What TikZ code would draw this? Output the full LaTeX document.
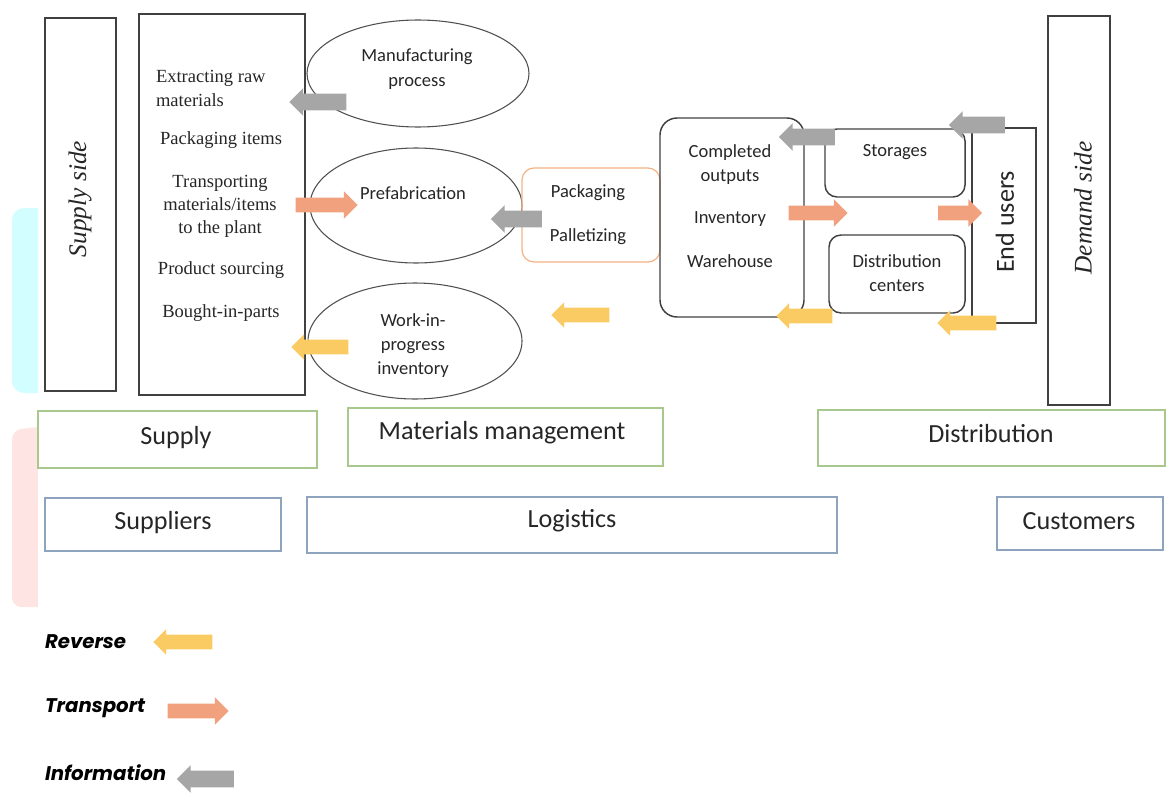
\documentclass[tikz,border=0pt]{standalone}
\usepackage{fontspec}
\setmainfont{Liberation Serif}
\setsansfont{Carlito}
\newfontfamily\legfont{Poppins}
\usetikzlibrary{shapes.geometric,shapes.arrows}
\definecolor{linec}{HTML}{404040}
\definecolor{ellc}{HTML}{505050}
\definecolor{grnc}{HTML}{A9C88E}
\definecolor{bluc}{HTML}{8EA4BE}
\definecolor{pkgc}{HTML}{F4B183}
\definecolor{grayar}{HTML}{A6A6A6}
\definecolor{orar}{HTML}{F2A17E}
\definecolor{yelar}{HTML}{FACB62}
\definecolor{cyanbg}{HTML}{D3FEFF}
\definecolor{pinkbg}{HTML}{FFE4E4}
\definecolor{txtc}{HTML}{262626}
\begin{document}
\begin{tikzpicture}[x=0.75pt,y=-0.75pt,
  every node/.style={inner sep=0pt, outer sep=0pt, text=txtc},
  sz/.style 2 args={minimum width=#1*0.75pt, minimum height=#2*0.75pt},
  bx/.style={draw=linec, line width=1.1pt},
  thinbx/.style={draw=linec, line width=0.9pt},
  ell/.style={ellipse, draw=ellc, line width=0.8pt},
  grnbox/.style={draw=grnc, line width=0.9pt},
  blubox/.style={draw=bluc, line width=1pt},
  serif14/.style={font=\fontsize{13.9}{17.4}\selectfont},
  sans14/.style={font=\sffamily\fontsize{13.9}{18.6}\selectfont},
  sans20/.style={font=\sffamily\fontsize{19.6}{22}\selectfont},
  side/.style={rotate=90, font=\fontsize{19}{22}\selectfont\itshape},
  legtext/.style={anchor=west, font=\legfont\bfseries\itshape\fontsize{14.8}{17}\selectfont, text=black},
  blockarrow/.style={single arrow, text height=0pt, text depth=0pt, inner xsep=0pt},
  garr/.style={blockarrow, fill=grayar, minimum height=#1, inner ysep=6pt, minimum width=20.25pt, single arrow head extend=4.125pt, rotate=180},
  oarr/.style={blockarrow, fill=orar, minimum height=#1, inner ysep=5.25pt, minimum width=20.25pt, single arrow head extend=4.875pt},
  yarr/.style={blockarrow, fill=yelar, minimum height=#1, inner ysep=5.25pt, minimum width=18.75pt, single arrow head extend=4.125pt, rotate=180}
]
\useasboundingbox (0,0) rectangle (1169,792);
% background tints
\fill[cyanbg] (38,208) [rounded corners=9pt] -- (12,208) -- (12,393) [sharp corners] -- (38,393) -- cycle;
\fill[pinkbg] (38,427) [rounded corners=7pt] -- (12,430) -- (12,607) [sharp corners] -- (38,607) -- cycle;

% supply side
\node[bx, sz={71}{373}] (supside) at (80.5,204.5) {};
\node[side] (supsidet) at (80,199) {Supply side};

% supply activities box
\node[bx, sz={166}{381}] (supact) at (222,204.5) {};
\node[serif14, anchor=west, align=left] (t1) at (156,88.5) {Extracting raw\\materials};
\node[serif14] (t2) at (221,140) {Packaging items};
\node[serif14, align=center] (t3) at (220,206.5) {Transporting\\materials/items\\to the plant};
\node[serif14] (t4) at (221,270) {Product sourcing};
\node[serif14] (t5) at (221,313) {Bought-in-parts};

% ellipses
\node[ell, sz={222}{107}] (manuf) at (418,73.5) {};
\node[sans14, align=center] (manuft) at (417,69.5) {Manufacturing\\process};
\node[ell, sz={212}{115}] (prefab) at (416,205.5) {};
\node[sans14] (prefabt) at (413,193) {Prefabrication};
\node[ell, sz={214}{116}] (wip) at (415,341) {};
\node[sans14, align=center, font=\sffamily\fontsize{13.9}{18}\selectfont] (wipt) at (413,346) {Work-in-\\progress\\inventory};

% packaging
\node[draw=pkgc, line width=0.9pt, rounded corners=9pt, sz={138}{94}] (pack) at (591,215) {};
\node[sans14] (packt1) at (588,193) {Packaging};
\node[sans14] (packt2) at (588,237) {Palletizing};

% completed outputs
\node[bx, rounded corners=12.75pt, sz={144}{199}] (comp) at (732,217.5) {};
\node[sans14, align=center] (compt1) at (730,164.5) {Completed\\outputs};
\node[sans14] (compt2) at (730,219) {Inventory};
\node[sans14] (compt3) at (730,261) {Warehouse};

% storages and distribution centres
\node[bx, rounded corners=9pt, sz={140}{68}] (stor) at (895,163) {};
\node[sans14] (stort) at (895,152) {Storages};
\node[bx, rounded corners=9pt, sz={136}{78}] (dc) at (897,274) {};
\node[sans14, align=center, font=\sffamily\fontsize{13.9}{18}\selectfont] (dct) at (897,273) {Distribution\\centers};

% end users
\node[thinbx, sz={64}{195}] (endu) at (1004,225.5) {};
\node[sans20, rotate=90] (endut) at (1005,222) {End users};

% demand side
\node[bx, sz={62}{389}] (demside) at (1079,210.5) {};
\node[side] (demsidet) at (1083,208) {Demand side};

% lower rows
\node[grnbox, sz={279}{57}] (supply) at (177.5,439.5) {};
\node[sans20] (supplyt) at (176,438) {Supply};
\node[grnbox, sz={315}{58}] (matm) at (505.5,437) {};
\node[sans20] (matmt) at (502,433) {Materials management};
\node[grnbox, sz={347}{56}] (distr) at (991.5,438) {};
\node[sans20] (distrt) at (991,434) {Distribution};
\node[blubox, sz={236}{53}] (suppl) at (163,524.5) {};
\node[sans20] (supplt) at (163,523) {Suppliers};
\node[blubox, sz={530}{56}] (logi) at (572,525) {};
\node[sans20] (logit) at (572,521) {Logistics};
\node[blubox, sz={166}{53}] (cust) at (1080,523.5) {};
\node[sans20] (custt) at (1079,521) {Customers};

% information arrows (grey, leftwards)
\node[garr=42.75pt] (g1) at (322,102) {};
\node[garr=38.25pt] (g2) at (520.5,219) {};
\node[garr=42pt] (g3) at (811,137) {};
\node[garr=42pt] (g4) at (981,125) {};
% transport arrows (orange, rightwards)
\node[oarr=46.5pt] (o1) at (323,205) {};
\node[oarr=44.25pt] (o2) at (814.5,213) {};
\node[oarr=33pt] (o3) at (956.5,213) {};
% reverse arrows (yellow, leftwards)
\node[yarr=42.75pt] (y1) at (323.5,347) {};
\node[yarr=43.5pt] (y2) at (584,315) {};
\node[yarr=42pt] (y3) at (808,316) {};
\node[yarr=44.25pt] (y4) at (970.5,323) {};

% legend
\node[legtext] (lrev) at (45,642) {Reverse};
\node[yarr=44.25pt] (ly) at (186.5,642) {};
\node[legtext] (ltra) at (45,708) {Transport};
\node[oarr=45.75pt] (lo) at (194.5,711) {};
\node[legtext] (linf) at (45,773) {Information};
\node[garr=42.75pt] (lg) at (209.5,779) {};
\end{tikzpicture}
\end{document}
